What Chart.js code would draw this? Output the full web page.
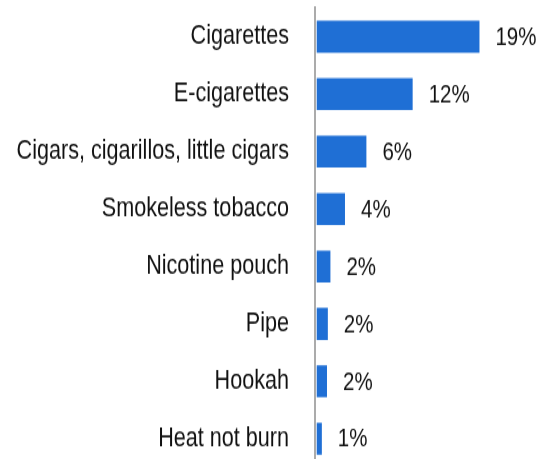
<!DOCTYPE html>
<html>
<head>
<meta charset="utf-8">
<script src="https://cdn.jsdelivr.net/npm/chart.js@4/dist/chart.umd.min.js"></script>
<style>
html,body{margin:0;padding:0;background:#fff;overflow:hidden;width:548px;height:459px;}
#c{display:block;transform:scaleY(1.25);transform-origin:0 0;}
</style>
</head>
<body>
<canvas id="c" width="548" height="374" style="width:548px;height:374px"></canvas>
<script>
const categories = ["Cigarettes","E-cigarettes","Cigars, cigarillos, little cigars","Smokeless tobacco","Nicotine pouch","Pipe","Hookah","Heat not burn"];
const values = [19.0, 11.2, 5.8, 3.3, 1.6, 1.3, 1.2, 0.6];
const valueLabels = ["19%","12%","6%","4%","2%","2%","2%","1%"];

const FONT = "'Liberation Sans', Arial, sans-serif";

const valueLabelPlugin = {
  id: 'valueLabels',
  afterDatasetsDraw(chart) {
    const ctx = chart.ctx;
    const meta = chart.getDatasetMeta(0);
    ctx.save();
    ctx.font = "20.5px " + FONT;
    ctx.fillStyle = "#111";
    ctx.textAlign = "left";
    ctx.textBaseline = "middle";
    meta.data.forEach((bar, i) => {
      ctx.fillText(valueLabels[i], bar.x + 16, bar.y + 0.8);
    });
    ctx.restore();
  }
};

new Chart(document.getElementById('c'), {
  type: 'bar',
  data: {
    labels: categories,
    datasets: [{
      data: values,
      backgroundColor: '#1f6fd5',
      borderWidth: 0,
      barPercentage: 0.557,
      categoryPercentage: 1.0
    }]
  },
  options: {
    indexAxis: 'y',
    responsive: false,
    animation: false,
    layout: { padding: { left: 0, right: 0, top: 6.4, bottom: 0 } },
    plugins: { legend: { display: false }, tooltip: { enabled: false } },
    scales: {
      x: {
        display: false,
        min: -0.2,
        max: 27
      },
      y: {
        grid: { display: false, drawTicks: false },
        border: { display: true, color: '#ababab', width: 2 },
        ticks: {
          color: '#111',
          padding: 26,
          font: { family: FONT, size: 21.6 }
        },
        afterFit(scale) {
          scale.width = 315;
          scale.paddingTop = 0;
          scale.paddingBottom = 0;
        }
      }
    }
  },
  plugins: [valueLabelPlugin]
});
</script>
</body>
</html>
